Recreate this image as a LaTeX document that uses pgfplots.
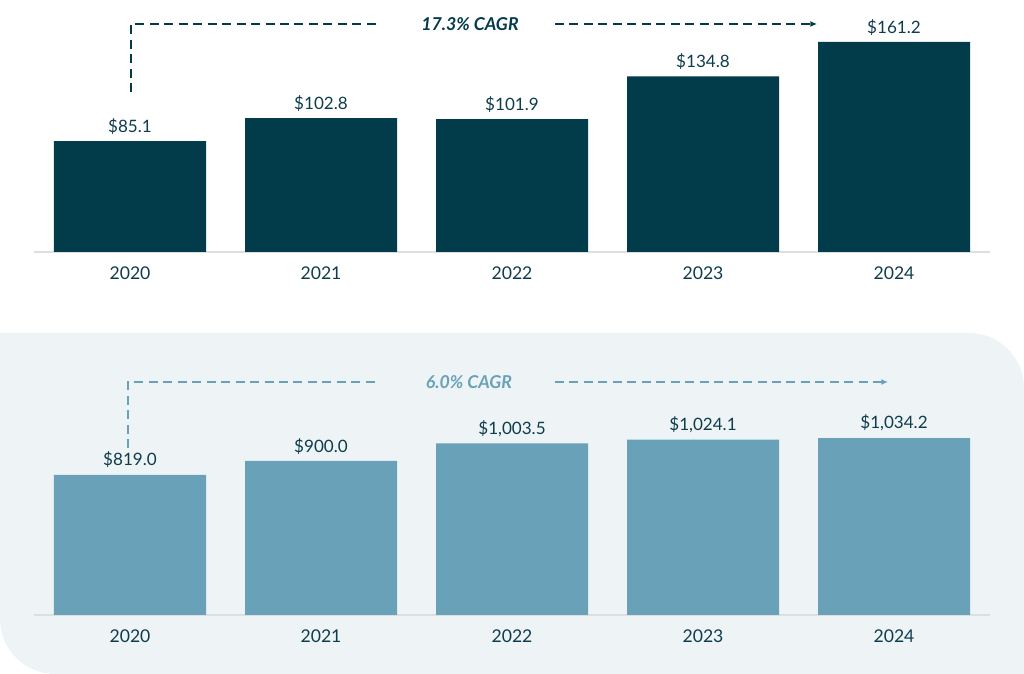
\documentclass[border=0pt]{standalone}
\usepackage{pgfplots}
\pgfplotsset{compat=1.18}
\usepackage{fontspec}
\setmainfont{Lato}
\usetikzlibrary{arrows.meta}

\definecolor{darkbar}{HTML}{023B4A}
\definecolor{lightbar}{HTML}{69A2B8}
\definecolor{txt}{HTML}{0F3C4C}
\definecolor{panel}{HTML}{EEF4F6}
\definecolor{base}{HTML}{DEDEDE}

\pgfplotsset{
  cagrbars/.style={
    scale only axis, width=716.25pt,
    xmin=-0.5, xmax=4.5, ymin=0,
    axis x line*=bottom, axis y line=none,
    x axis line style={base, line width=0.8pt, -},
    xtick={0,...,4}, xticklabels={2020,2021,2022,2023,2024},
    major tick length=0pt,
    xticklabel style={font=\fontsize{13.2}{15}\selectfont, text=txt,
      anchor=north, inner sep=0pt, yshift=-10.5pt},
    ybar, bar width=114pt,
    point meta=explicit symbolic,
    nodes near coords,
    nodes near coords style={font=\fontsize{12.8}{14}\selectfont, text=txt,
      anchor=south, inner sep=0pt, yshift=5pt},
    clip=false, anchor=south west,
  },
}

\begin{document}
\begin{tikzpicture}
\useasboundingbox (0,0) rectangle (768pt,505.5pt);

% light panel behind the second chart
\fill[panel] (0,255.75pt) -- (726.75pt,255.75pt) arc (90:0:41.25pt)
  -- (768pt,0) -- (41.25pt,0) arc (270:180:41.25pt) -- cycle;

% revenue
\begin{axis}[cagrbars, at={(25.875pt,316.5pt)}, height=175.87pt, ymax=180]
  \addplot[fill=darkbar, draw=none] coordinates {
    (0,85.1) [\$85.1]
    (1,102.8) [\$102.8]
    (2,101.9) [\$101.9]
    (3,134.8) [\$134.8]
    (4,161.2) [\$161.2]
  };
\end{axis}

% second series
\begin{axis}[cagrbars, at={(25.875pt,44.25pt)}, height=154.03pt, ymax=1200]
  \addplot[fill=lightbar, draw=none] coordinates {
    (0,819.0) [\$819.0]
    (1,900.0) [\$900.0]
    (2,1003.5) [\$1,003.5]
    (3,1024.1) [\$1,024.1]
    (4,1034.2) [\$1,034.2]
  };
\end{axis}

% CAGR annotations (pixel grid, y measured from bottom)
\begin{scope}[x=0.75pt, y=0.75pt, line width=1.1pt, dash pattern=on 6.75pt off 4.1pt]
  \draw[darkbar] (131,582) -- (131,650) -- (380,650);
  \draw[darkbar, -{Latex[length=5pt,width=4.5pt]}] (555,650) -- (817,650);
  \node[text=darkbar, font=\fontsize{13.3}{15}\selectfont\bfseries\itshape] at (470,650) {17.3\% CAGR};
  \draw[lightbar] (128,226) -- (128,292) -- (380,292);
  \draw[lightbar, -{Latex[length=5pt,width=4.5pt]}] (555,292) -- (888,292);
  \node[text=lightbar, font=\fontsize{13.3}{15}\selectfont\bfseries\itshape] at (469,292) {6.0\% CAGR};
\end{scope}
\end{tikzpicture}
\end{document}
